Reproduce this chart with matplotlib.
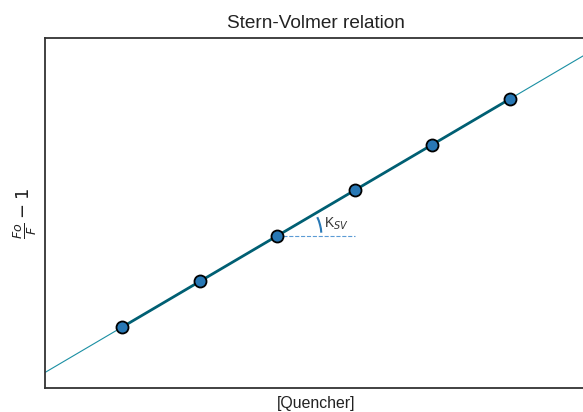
import numpy as np
import matplotlib
matplotlib.use('Agg')
import matplotlib.pyplot as plt
from matplotlib.patches import Arc

# Concentrations du quencher et rapport Fo/F - 1
quencher = [1, 2, 3, 4, 5, 6]
ratio = [1, 2, 3, 4, 5, 6]
fit_x = [0, 7]

plt.rcParams['font.family'] = ['Liberation Sans', 'DejaVu Sans']

fig = plt.figure(figsize=(5.83, 4.12), dpi=100)
ax = fig.add_axes([0.0772, 0.0583, 0.93, 0.8495])

slope, intercept = np.polyfit(quencher, ratio, 1)
fx = np.array(fit_x)
ax.plot(fx, slope * fx + intercept, color="#1a8fa3", lw=0.8, zorder=1)
ax.plot(quencher, ratio, color="#005f73", lw=2.0, zorder=2)
ax.scatter(quencher, ratio, s=75, color="#2878b5", edgecolor="black",
           linewidth=1.3, zorder=3)

# Angle K_SV sur le 3e point
x0, y0 = quencher[2], ratio[2]
ax.plot([x0, quencher[3]], [y0, y0], ls="--", lw=0.8, color="#5b9bd5", zorder=1)
ax.add_patch(Arc((x0, y0), 1.137, 1.93, theta1=6.8, theta2=38.4,
                 color="#2878b5", lw=1.5))
ax.text(x0 + 0.6, y0 + 0.26, r"K$_{SV}$", fontsize=10, color="#333333",
        va="center", ha="left")

ax.set_xlim(0, 7)
ax.set_ylim(-0.34, 7.34)
ax.set_xticks([])
ax.set_yticks([])
for s in ax.spines.values():
    s.set_color("#333333")
    s.set_linewidth(1.3)

ax.set_title("Stern-Volmer relation", fontsize=13.7, color="#222222", pad=7)
ax.set_xlabel("[Quencher]", fontsize=11.4, color="#222222", labelpad=6)
ax.set_ylabel(r"$\frac{Fo}{F} - 1$", fontsize=13, color="#222222", labelpad=4)

fig.savefig("out.png", dpi=100)
